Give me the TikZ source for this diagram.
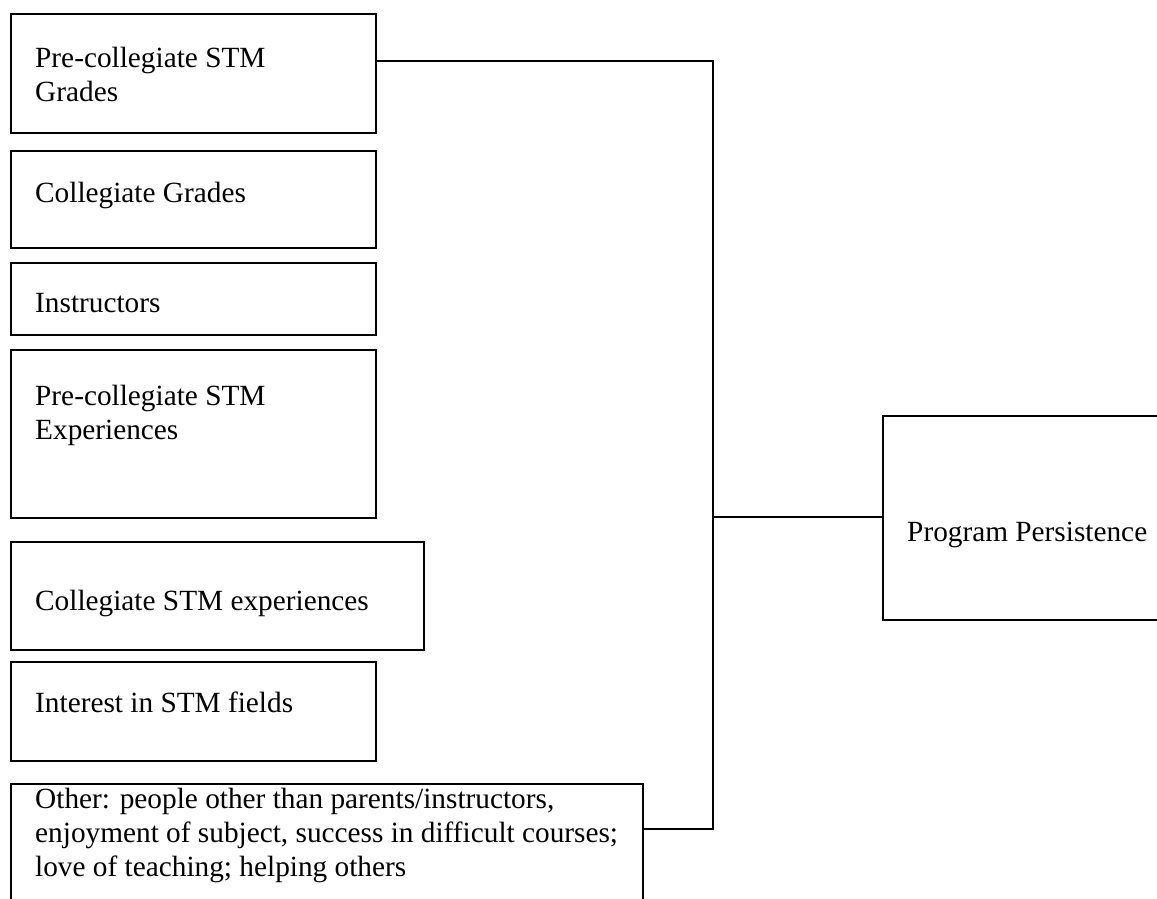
\documentclass[tikz,border=0pt]{standalone}
\usepackage{fontspec}
\setmainfont{Liberation Serif}
\usetikzlibrary{positioning}

\begin{document}
\begin{tikzpicture}[x=1pt,y=-1pt,
	box/.style={draw,line width=1.8pt,rectangle,inner sep=0pt,anchor=north west},
	txt/.style={anchor=north west,inner sep=0pt,align=left,font=\fontsize{29.3}{34}\selectfont},
	link/.style={line width=1.8pt}]
	\useasboundingbox (0,0) rectangle (1157,899);
	\clip (0,0) rectangle (1157,899);
	% boxes on the left
	\node[box,minimum width=365pt,minimum height=119pt] (pcgrades) at (10,13) {};
	\node[box,minimum width=365pt,minimum height=97pt] (cgrades) at (10,150) {};
	\node[box,minimum width=365pt,minimum height=72pt] (instr) at (10,262) {};
	\node[box,minimum width=365pt,minimum height=168pt] (pcexp) at (10,349) {};
	\node[box,minimum width=413pt,minimum height=108pt] (cexp) at (10,541) {};
	\node[box,minimum width=365pt,minimum height=99pt] (interest) at (10,661) {};
	\node[box,minimum width=632pt,minimum height=150pt] (other) at (10,783) {};
	% box on the right
	\node[box,minimum width=330pt,minimum height=204pt] (persist) at (882,415) {};
	% texts
	\node[txt] (pcgradestxt) at (35,47) {Pre-collegiate STM\\Grades};
	\node[txt] (cgradestxt) at (35,182) {Collegiate Grades};
	\node[txt] (instrtxt) at (35,293) {Instructors};
	\node[txt] (pcexptxt) at (35,385) {Pre-collegiate STM\\Experiences};
	\node[txt] (cexptxt) at (35,590) {Collegiate STM experiences};
	\node[txt] (interesttxt) at (35,692) {Interest in STM fields};
	\node[txt] (othertxt) at (35,788) {Other: people other than parents/instructors,\\enjoyment of subject, success in difficult courses;\\love of teaching; helping others};
	\node[txt] (persisttxt) at (907,522) {Program Persistence};
	% connectors
	\coordinate (jtop) at (713,61);
	\coordinate (jmid) at (713,517);
	\coordinate (jbot) at (713,829);
	\draw[link] (jtop -| pcgrades.east) -- (jtop) -- (jbot) -- (jbot -| other.east);
	\draw[link] (jmid) -- (jmid -| persist.west);
\end{tikzpicture}
\end{document}
